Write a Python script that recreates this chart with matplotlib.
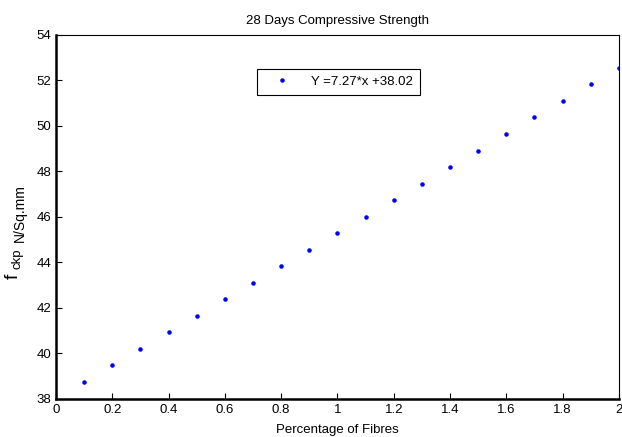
import matplotlib.pyplot as plt

plt.rcParams['font.family'] = ['Liberation Sans', 'DejaVu Sans']

fibres = [0.1, 0.2, 0.3, 0.4, 0.5, 0.6, 0.7, 0.8, 0.9, 1.0,
          1.1, 1.2, 1.3, 1.4, 1.5, 1.6, 1.7, 1.8, 1.9, 2.0]
strength = [38.75, 39.48, 40.20, 40.93, 41.66, 42.38, 43.11, 43.84, 44.56, 45.29,
            46.02, 46.74, 47.47, 48.20, 48.92, 49.65, 50.38, 51.11, 51.83, 52.56]
x_ticks = [0, 0.2, 0.4, 0.6, 0.8, 1, 1.2, 1.4, 1.6, 1.8, 2]
x_labels = ['0', '0.2', '0.4', '0.6', '0.8', '1', '1.2', '1.4', '1.6', '1.8', '2']
y_ticks = [38, 40, 42, 44, 46, 48, 50, 52, 54]

W, H = 622, 437
fig = plt.figure(figsize=(W / 100, H / 100), dpi=100)
ax = fig.add_axes([0.090, 0.087, 0.905, 0.833])

ax.plot(fibres, strength, '.', color='blue', markersize=4.5, label='Y =7.27*x +38.02')

ax.set_xlim(0, 2)
ax.set_ylim(38, 54)
ax.set_xticks(x_ticks)
ax.set_xticklabels(x_labels)
ax.set_yticks(y_ticks)
ax.tick_params(direction='in', length=4, labelsize=9.5, top=False, right=False)

ax.spines['left'].set_linewidth(1.8)
ax.spines['bottom'].set_linewidth(1.8)
ax.spines['top'].set_linewidth(0.8)
ax.spines['right'].set_linewidth(0.8)

ax.set_title('28 Days Compressive Strength', fontsize=9.5, pad=8)
ax.set_xlabel('Percentage of Fibres', fontsize=9.5, labelpad=6)

# y label built from pieces: big f, small subscript, then units
fig.text(13 / W, 1 - 276 / H, 'f', rotation=90, fontsize=14, ha='center', va='center')
fig.text(17 / W, 1 - 259 / H, 'ckp', rotation=90, fontsize=9.5, ha='center', va='center')
fig.text(20 / W, 1 - 213 / H, 'N/Sq.mm', rotation=90, fontsize=10, ha='center', va='center')

leg = ax.legend(loc='center', bbox_to_anchor=(0.502, 0.871), fontsize=9.5,
                fancybox=False, edgecolor='black', framealpha=1,
                handlelength=2.7, handletextpad=0.9, borderpad=0.5)
leg.get_frame().set_linewidth(0.8)

plt.savefig('out.png', dpi=100)
